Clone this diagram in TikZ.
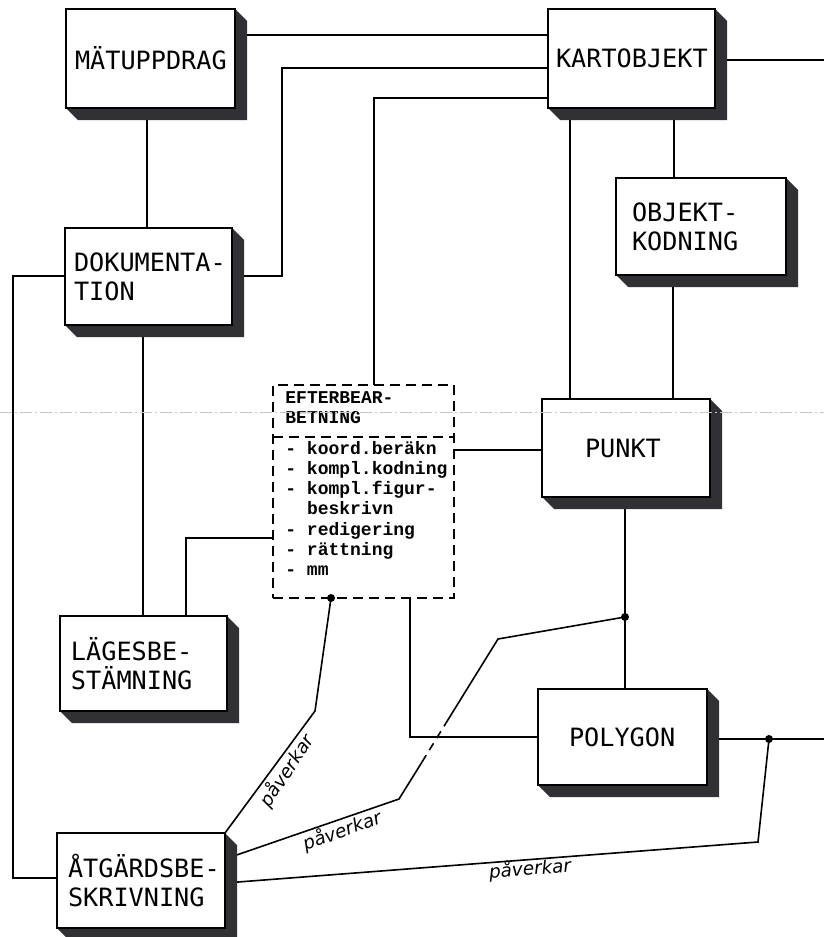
\documentclass[tikz,border=0pt]{standalone}
\usepackage{fontspec}
\usetikzlibrary{calc}
\newfontfamily\boxfont{DejaVu Sans Mono}
\newfontfamily\eftfont{Liberation Mono}
\newfontfamily\handfont{DejaVu Sans}
\pgfdeclarelayer{background}
\pgfsetlayers{background,main}
\definecolor{shadowc}{HTML}{303035}
% name, x1, y1, x2, y2, left margin (px), text
\newcommand\shbox[7]{%
  \fill[shadowc] (#4,#3) -- (#4+12,#3+12) -- (#4+12,#5+12) -- (#2+12,#5+12) -- (#2,#5) -- cycle;
  \node[box, minimum width=\dimexpr(#4pt-#2pt)/2\relax, minimum height=\dimexpr(#5pt-#3pt)/2\relax,
        text width=\dimexpr(#4pt-#2pt)/2\relax] (#1) at ({(#2+#4)/2},{(#3+#5)/2}) {\leftskip=\dimexpr #6pt/2\relax #7\par};%
}
\newcommand\itm[1]{\makebox[1.2em][l]{-}#1}
\begin{document}
\begin{tikzpicture}[x=0.5pt,y=-0.5pt,
  line/.style={line width=0.8pt},
  box/.style={draw,fill=white,line width=0.8pt,inner sep=0pt,outer sep=0pt,align=left,
    font=\boxfont\fontsize{12.6}{14.4}\selectfont},
  eftframe/.style={draw,fill=white,line width=0.8pt,dash pattern=on 5pt off 3pt,inner sep=0pt,outer sep=0pt},
  eftsep/.style={line width=0.8pt,dash pattern=on 5pt off 3pt},
  efttext/.style={inner sep=0pt,align=left,text width=84pt,anchor=base west,
    font=\eftfont\bfseries\fontsize{9}{10.15}\selectfont},
  plabel/.style={inner sep=0pt,font=\handfont\itshape\fontsize{9.2}{10}\selectfont},
  dot/.style={circle,fill=black,inner sep=0pt,minimum size=4pt},
  fold/.style={gray!45,line width=0.3pt,dash pattern=on 6pt off 1.5pt on 1pt off 1.5pt}
]
\useasboundingbox (0,0) rectangle (824,937);

% boxes
\shbox{mat}{66}{9}{235}{108}{9}{MÄTUPPDRAG}
\shbox{kart}{548}{9}{715}{108}{8}{\raisebox{-2pt}{KARTOBJEKT}}
\shbox{obj}{616}{178}{786}{275}{16}{OBJEKT-\\KODNING}
\shbox{dok}{65}{228}{232}{325}{9}{DOKUMENTA-\\TION}
\shbox{punkt}{542}{399}{710}{497}{43}{PUNKT}
\shbox{poly}{538}{689}{707}{785}{31}{POLYGON}
\shbox{lag}{60}{616}{227}{711}{11}{LÄGESBE-\\STÄMNING}
\shbox{atg}{57}{833}{225}{928}{11}{ÅTGÄRDSBE-\\SKRIVNING}

% dashed post-processing box
\node[eftframe, minimum width=90.5pt, minimum height=106.5pt] (eft) at (363.5,491.5) {};
\draw[eftsep] (eft.west |- 0,437) -- (eft.east |- 0,437);
\node[efttext] (efttitle) at (285,403) {EFTERBEAR-\\BETNING};
\node[efttext] (eftlist) at (285,454) {\itm{koord.beräkn}\\\itm{kompl.kodning}\\\itm{kompl.figur-}\\\hspace*{1.2em}beskrivn\\\itm{redigering}\\\itm{rättning}\\\itm{mm}};

% junction dots and free ends
\node[dot] (eftdot) at (331,598) {};
\node[dot] (pdot) at (625,617) {};
\node[dot] (podot) at (769,739) {};
\coordinate (re1) at (824,60);
\coordinate (re2) at (824,739);

% labels
\node[plabel, rotate=56.6] (pl1) at (287,771) {påverkar};
\node[plabel, rotate=20.2] (pl2) at (342,831) {påverkar};
\node[plabel, rotate=4.5] (pl3) at (530,869) {påverkar};

\begin{pgfonlayer}{background}
\begin{scope}[line]
\draw (mat.east |- 0,35) -- (kart.west |- 0,35);
\draw (dok.east |- 0,276) -| (282,68) -- (kart.west |- 0,68);
\draw (kart.west |- 0,98) -| (374,0 |- eft.north);
\draw (kart.east |- re1) -- (re1);
\draw (kart.south -| 570,0) -- (punkt.north -| 570,0);
\draw (kart.south -| 674,0) -- (obj.north -| 674,0);
\draw (obj.south -| 673,0) -- (punkt.north -| 673,0);
\draw (mat.south -| 147,0) -- (dok.north -| 147,0);
\draw (dok.south -| 143,0) -- (lag.north -| 143,0);
\draw (dok.west |- 0,276) -| (13,878) -- (atg.west |- 0,878);
\draw (lag.north -| 186,0) |- (eft.west |- 0,538);
\draw (punkt.west |- 0,450) -- (eft.east |- 0,450);
\draw (eft.south -| 410,0) |- (poly.west |- 0,737);
\draw (poly.east |- podot) -- (re2);
\draw (punkt.south -| pdot) -- (poly.north -| pdot);
% influence lines
\draw (eftdot.center) -- (315,711) -- (atg.north east);
\draw (atg.east |- 0,859) -- (399,799) -- (422,762);
\draw[dash pattern=on 4pt off 3pt] (422,762) -- (446,723);
\draw (446,723) -- (498,639) -- (pdot.center);
\draw (atg.east |- 0,883) -- (758,842) -- (podot.center);
\end{scope}
\end{pgfonlayer}

% scan fold line
\draw[fold] (0,412) -- (824,412);
\end{tikzpicture}
\end{document}
